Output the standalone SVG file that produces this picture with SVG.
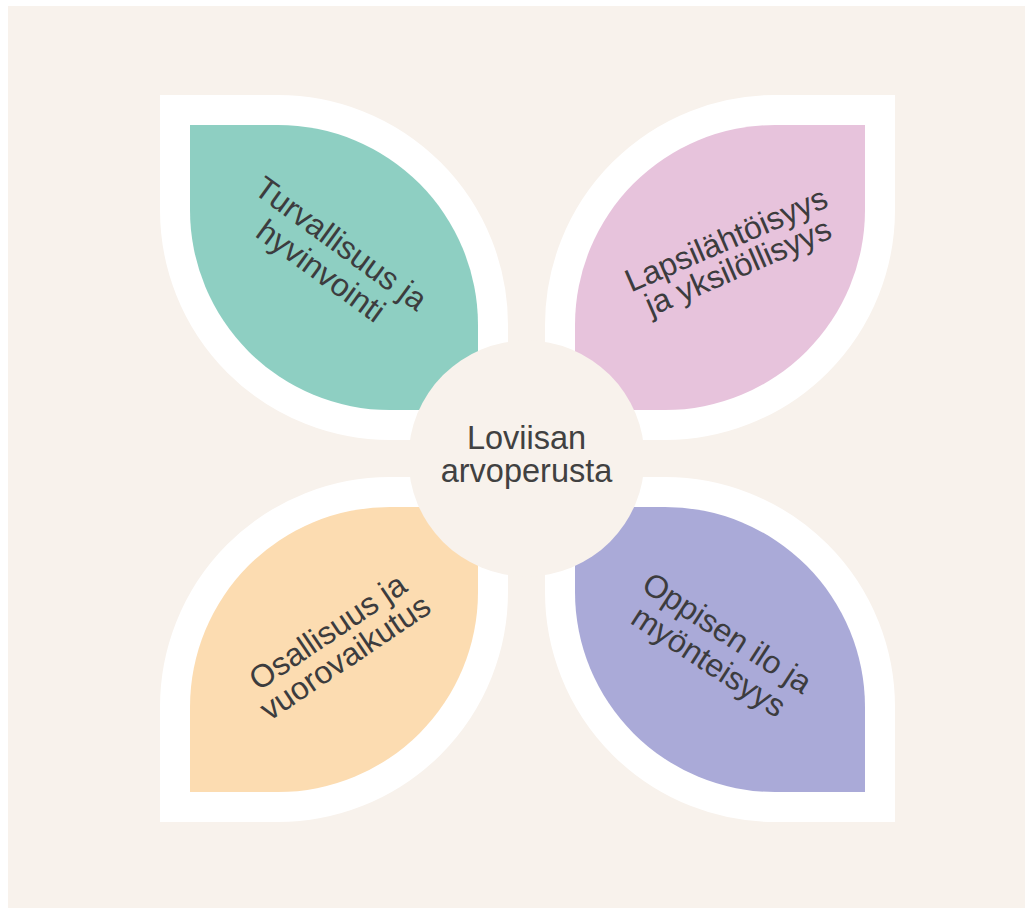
<svg xmlns="http://www.w3.org/2000/svg" width="1025" height="908" viewBox="0 0 1025 908">
  <style>
    .leaf { stroke: #ffffff; stroke-width: 60; stroke-linejoin: miter; stroke-miterlimit: 10; paint-order: stroke; }
    .lbl { font-family: "Liberation Sans", Arial, sans-serif; font-size: 32px; fill: #3c3c3e; text-anchor: middle; }
    .ctr { font-family: "Liberation Sans", Arial, sans-serif; font-size: 32.5px; fill: #414141; text-anchor: middle; }
  </style>
  <rect x="0" y="0" width="1025" height="908" fill="#ffffff"/>
  <rect x="8" y="6" width="1017" height="902" fill="#f8f2ec"/>

  <g id="leaf-turvallisuus">
    <path class="leaf" fill="#8ecfc2" d="M190,125 L278,125 A200,200 0 0 1 478,325 L478,410 L390,410 A200,200 0 0 1 190,210 Z"/>
    <g transform="translate(331,257) rotate(36)">
      <text class="lbl" x="0" y="-6">Turvallisuus ja</text>
      <text class="lbl" x="0" y="28">hyvinvointi</text>
    </g>
  </g>

  <g id="leaf-lapsilahtoisyys">
    <path class="leaf" fill="#e7c3dc" d="M865,125 L865,210 A200,200 0 0 1 665,410 L575,410 L575,325 A200,200 0 0 1 775,125 Z"/>
    <g transform="translate(732,253) rotate(-23.5)">
      <text class="lbl" x="0" y="-4">Lapsilähtöisyys</text>
      <text class="lbl" x="0" y="26">ja yksilöllisyys</text>
    </g>
  </g>

  <g id="leaf-osallisuus">
    <path class="leaf" fill="#fcdcb1" d="M478,507 L478,592 A200,200 0 0 1 278,792 L190,792 L190,707 A200,200 0 0 1 390,507 Z"/>
    <g transform="translate(336,644) rotate(-34)">
      <text class="lbl" x="0" y="-4">Osallisuus ja</text>
      <text class="lbl" x="0" y="27">vuorovaikutus</text>
    </g>
  </g>

  <g id="leaf-oppisen">
    <path class="leaf" fill="#aaaad8" d="M575,507 L665,507 A200,200 0 0 1 865,707 L865,792 L775,792 A200,200 0 0 1 575,592 Z"/>
    <g transform="translate(718,647) rotate(33)">
      <text class="lbl" x="0" y="-6">Oppisen ilo ja</text>
      <text class="lbl" x="0" y="28">myönteisyys</text>
    </g>
  </g>

  <g id="connectors"></g>

  <g id="center">
    <circle cx="526.5" cy="458.5" r="118" fill="#f8f2ec"/>
    <text class="ctr" x="526.5" y="449">Loviisan</text>
    <text class="ctr" x="526.5" y="482">arvoperusta</text>
  </g>
</svg>
